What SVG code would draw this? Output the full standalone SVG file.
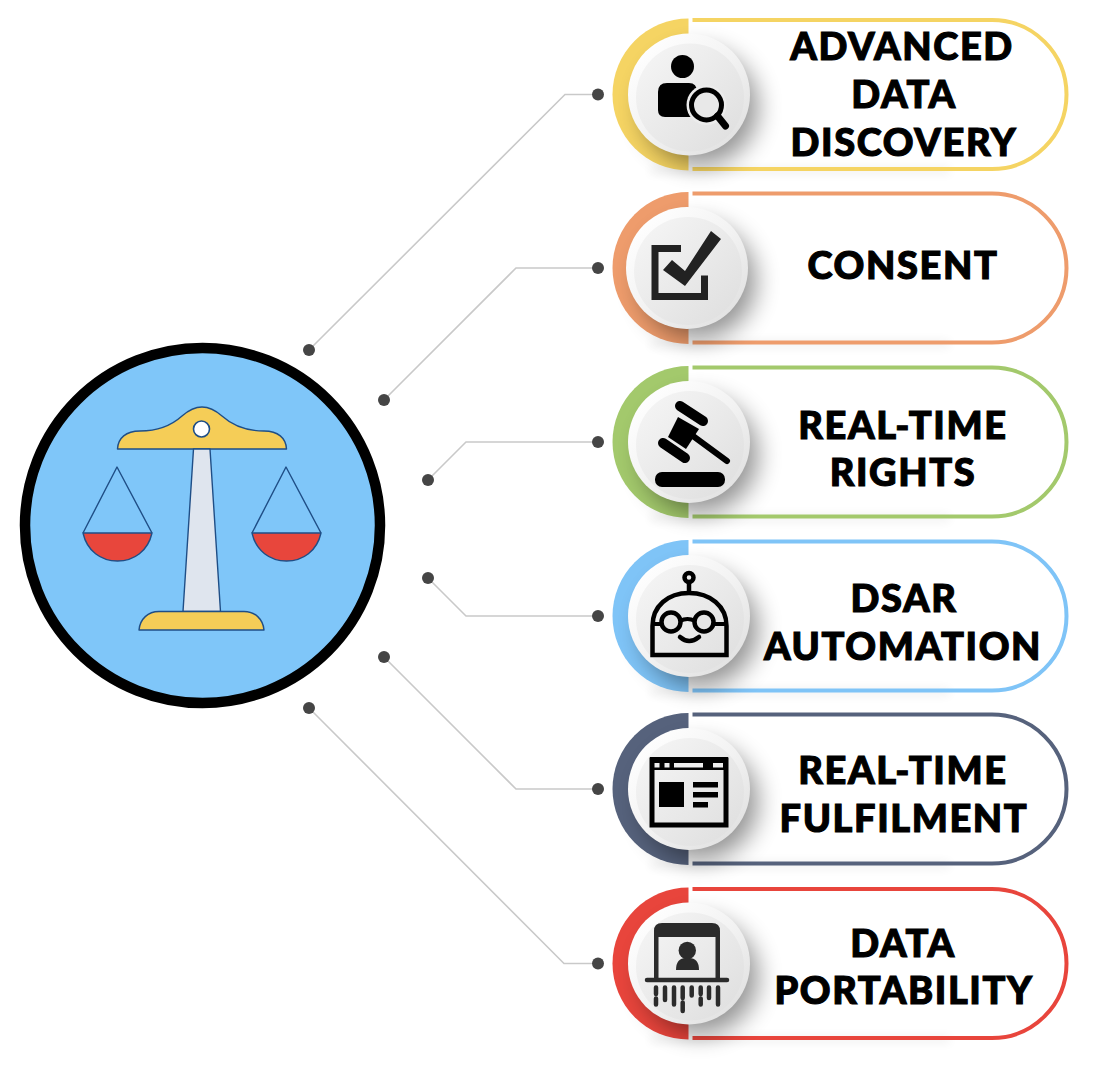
<svg xmlns="http://www.w3.org/2000/svg" width="1094" height="1070" viewBox="0 0 1094 1070">
<style>
.label{font-family:"Lato","Liberation Sans",sans-serif;font-weight:900;font-size:38px;fill:#000;stroke:#000;stroke-width:1.1px;letter-spacing:1.6px;text-anchor:middle}
.link{fill:none;stroke:#c9c9c9;stroke-width:1.6}
.dot{fill:#454545}
.line{fill:none;stroke:currentColor;stroke-width:4}
.disk{fill:currentColor}
.sc{stroke:#1f4e86;stroke-width:1.4;stroke-linejoin:round}
.ic{fill:#000}
.o{fill:none;stroke:#000}
</style>
<defs>
<linearGradient id="outerG" x1="0.1" y1="0.1" x2="0.85" y2="0.9"><stop offset="0" stop-color="#ffffff"/><stop offset="0.55" stop-color="#f2f2f2"/><stop offset="1" stop-color="#e2e2e2"/></linearGradient>
<linearGradient id="innerG" x1="0.1" y1="0.1" x2="0.9" y2="0.9"><stop offset="0" stop-color="#f4f4f4"/><stop offset="1" stop-color="#e0e0e0"/></linearGradient>
<filter id="soft" x="-60%" y="-60%" width="220%" height="220%"><feGaussianBlur stdDeviation="12"/></filter>
<filter id="faint" x="-10%" y="-80%" width="120%" height="260%"><feGaussianBlur stdDeviation="5"/></filter>
<g id="pill">
<rect x="650" y="72" width="300" height="8" fill="#000" opacity="0.05" filter="url(#faint)"/>
<path class="disk" d="M688.500 -76A76 76 0 0 0 688.500 76Z"/>
<path class="line" d="M692.500 -74.500H992A74.500 74.500 0 0 1 992 74.500H692.500"/>
</g>
<g id="button">
<circle cx="11" cy="13" r="58" fill="#000" opacity="0.42" filter="url(#soft)"/>
<circle cx="0" cy="0" r="61" fill="url(#outerG)"/>
<circle cx="1" cy="3" r="54" fill="url(#innerG)"/>
</g>
</defs>
<rect width="1094" height="1070" fill="#fff"/>
<g id="connectors">
<path class="link" d="M309 350L565 94.500H598"/>
<path class="link" d="M384 400L516 268H598"/>
<path class="link" d="M428 480L466 442H598"/>
<path class="link" d="M428 578L466 616H598"/>
<path class="link" d="M384 657L516 789H598"/>
<path class="link" d="M309 708L564 963.500H598"/>
<circle class="dot" cx="309" cy="350" r="6"/><circle class="dot" cx="598" cy="94.500" r="6"/>
<circle class="dot" cx="384" cy="400" r="6"/><circle class="dot" cx="598" cy="268" r="6"/>
<circle class="dot" cx="428" cy="480" r="6"/><circle class="dot" cx="598" cy="442" r="6"/>
<circle class="dot" cx="428" cy="578" r="6"/><circle class="dot" cx="598" cy="616" r="6"/>
<circle class="dot" cx="384" cy="657" r="6"/><circle class="dot" cx="598" cy="789" r="6"/>
<circle class="dot" cx="309" cy="708" r="6"/><circle class="dot" cx="598" cy="963.500" r="6"/>
</g>
<g id="scales">
<circle cx="202.500" cy="525.500" r="177.500" fill="#7fc6f9" stroke="#000" stroke-width="10.500"/>
<path class="sc" fill="#f5cd57" d="M117.500 449C118 438 126 431 140 431C160 431 172 425 182 416C190 409 196 407 202 407C208 407 214 409 222 416C232 425 244 431 264 431C278 431 286 438 286.500 449Z"/>
<circle cx="201.500" cy="429" r="8" fill="#fff" stroke="#1f4e86" stroke-width="1.600"/>
<path class="sc" fill="#dfe5ee" d="M193.500 449H210L220.500 611.500H183Z"/>
<path class="sc" fill="#f5cd57" d="M139 630C140 619 148 611.500 159 611.500H244C255 611.500 263 619 264 630Z"/>
<path class="sc" fill="none" d="M83 533L117 467L152 533"/>
<path class="sc" fill="#e8463c" d="M83 533H152C148 551 134 561 117.500 561C101 561 87 551 83 533Z"/>
<path class="sc" fill="none" d="M252 533L286 467L321 533"/>
<path class="sc" fill="#e8463c" d="M252 533H321C317 551 303 561 286.500 561C270 561 256 551 252 533Z"/>
</g>
<g id="node-discovery" color="#f5d463">
<use href="#pill" y="94.500"/><use href="#button" x="689" y="94.500"/>
<circle class="ic" cx="682.500" cy="66.500" r="11.500"/>
<path class="ic" d="M658 92Q658 83 667 83H689Q697 83 697 92V117H665Q658 117 658 110Z"/>
<circle cx="706.500" cy="105" r="20" fill="#ececec"/>
<circle cx="706.500" cy="105" r="15" fill="#e8e8e8" stroke="#000" stroke-width="5"/>
<path class="o" d="M717.500 116L725.500 126" stroke-width="7" stroke-linecap="round"/>
<text class="label" x="902" y="60">ADVANCED</text><text class="label" x="904" y="108">DATA</text><text class="label" x="904" y="156">DISCOVERY</text>
</g>
<g id="node-consent" color="#ee9c6c">
<use href="#pill" y="268"/><use href="#button" x="687" y="268"/>
<path d="M681 248.500H655V296.500H704.500V275.500" fill="none" stroke="#222" stroke-width="7"/>
<path fill="#222" d="M663 270L672 260L685 271L711 231L721 239L685 286Z"/>
<text class="label" x="903" y="279">CONSENT</text>
</g>
<g id="node-rights" color="#a3c96c">
<use href="#pill" y="442"/><use href="#button" x="689" y="442"/>
<path class="o" d="M680 406L703 421M663 443L685 458" stroke-width="10" stroke-linecap="round"/>
<path class="ic" d="M678 417L699 429L686 449L668 437Z"/>
<path class="o" d="M693 436L727 461" stroke-width="6" stroke-linecap="round"/>
<rect class="ic" x="655" y="472" width="70" height="15" rx="7"/>
<text class="label" x="903" y="439">REAL-TIME</text><text class="label" x="903" y="486">RIGHTS</text>
</g>
<g id="node-dsar" color="#7fc4f7">
<use href="#pill" y="616"/><use href="#button" x="689" y="616"/>
<circle class="o" cx="689" cy="577.500" r="4.500" stroke-width="4.500"/>
<path class="o" d="M689 582V593" stroke-width="4.500"/>
<path class="o" d="M652.500 655V626C652.500 606 668 593 689 593C710 593 726.500 606 726.500 626V655Z" stroke-width="4.500"/>
<circle cx="671" cy="622" r="9.500" fill="#e6e6e6" stroke="#000" stroke-width="4.500"/>
<circle cx="704" cy="622" r="9.500" fill="#e6e6e6" stroke="#000" stroke-width="4.500"/>
<path class="o" d="M653 624H662M680 621Q687.500 617 695 621M713 624H726" stroke-width="4"/>
<path class="o" d="M680 637Q689 645 699 637" stroke-width="4.500" stroke-linecap="round"/>
<text class="label" x="904" y="612">DSAR</text><text class="label" x="903" y="660">AUTOMATION</text>
</g>
<g id="node-fulfilment" color="#56627c">
<use href="#pill" y="789"/><use href="#button" x="689" y="789"/>
<rect x="652" y="760" width="74" height="65" fill="none" stroke="#000" stroke-width="5"/>
<rect class="ic" x="650" y="757" width="78" height="13"/>
<path fill="#eee" d="M654.500 763h5v4.500h-5zM664.500 763h5v4.500h-5zM674 763h29v4.500h-29zM713 763h10v4.500h-10z"/>
<path class="ic" d="M659 782h25v25h-25zM693 782h25v5.500h-25zM693 792h25v5.500h-25zM693 802h15v5.500h-15z"/>
<text class="label" x="903" y="784">REAL-TIME</text><text class="label" x="904" y="832">FULFILMENT</text>
</g>
<g id="node-portability" color="#e8453c">
<use href="#pill" y="963.500"/><use href="#button" x="689" y="963.500"/>
<path fill="#2b2b2b" d="M654 978V931Q654 923 662 923H712Q720 923 720 931V978H715.500V937H658.500V978Z"/>
<circle cx="687.300" cy="950.500" r="8.700" fill="#2b2b2b"/>
<path fill="#2b2b2b" d="M676 970Q676 958 686 958H689Q699 958 699 970Z"/>
<path d="M647 980H727" stroke="#2b2b2b" stroke-width="4.500" stroke-linecap="round" fill="none"/>
<path d="M656 987.500V994M656 998.500V1004.500M665 987.500V1000M674 987.500V1004.500M682.700 987.500V998M682.700 1002.500V1011M691.700 987.500V995.500M700.700 987.500V994M700.700 998.500V1004.500M709 987.500V998M718 987.500V1004.500" stroke="#2b2b2b" stroke-width="4.500" stroke-linecap="round" fill="none"/>
<text class="label" x="903" y="957">DATA</text><text class="label" x="904" y="1004">PORTABILITY</text>
</g>
</svg>
